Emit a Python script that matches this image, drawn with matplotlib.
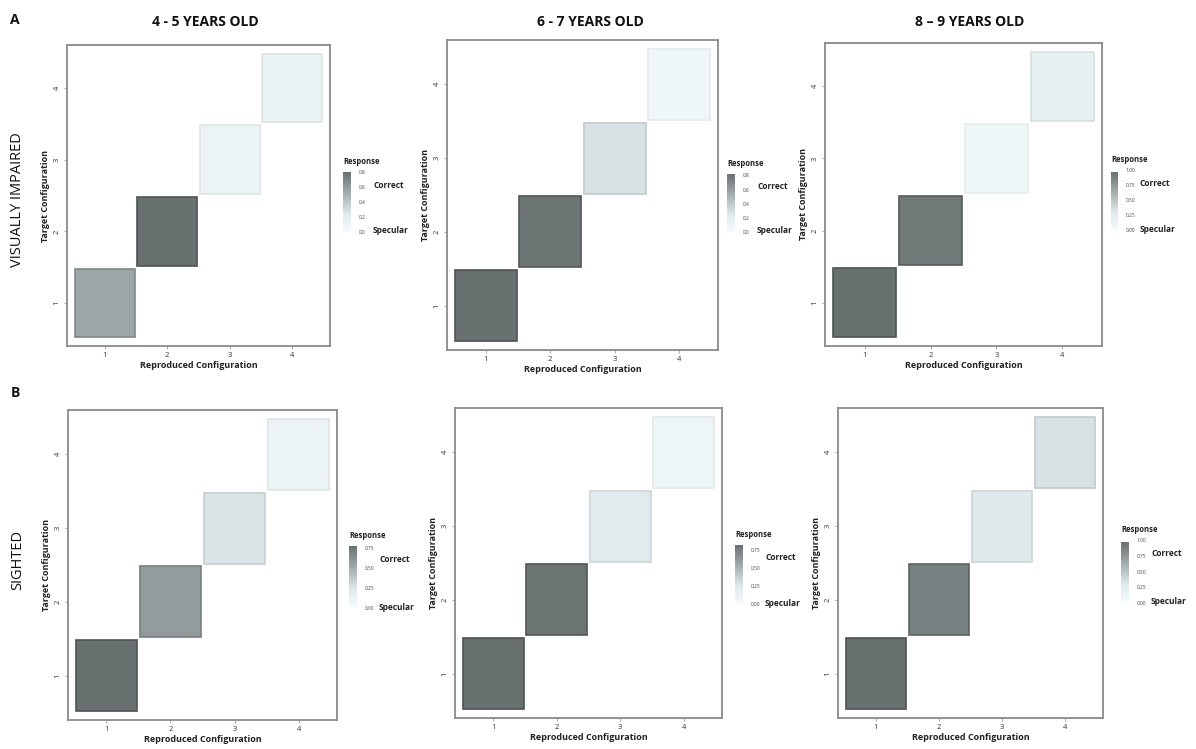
import matplotlib
matplotlib.use("Agg")
import matplotlib.pyplot as plt
from matplotlib.colors import LinearSegmentedColormap, Normalize
from matplotlib.cm import ScalarMappable

plt.rcParams['font.family'] = ['Open Sans', 'DejaVu Sans']

# Configurations (1..4) on both axes; only the diagonal holds a response
configs = [1, 2, 3, 4]
config_labels = ["1", "2", "3", "4"]

age_groups = ["4 - 5 YEARS OLD", "6 - 7 YEARS OLD", "8 \u2013 9 YEARS OLD"]
row_names = ["VISUALLY IMPAIRED", "SIGHTED"]
row_letters = ["A", "B"]

# Mean response per diagonal configuration (1 = correct, 0 = specular)
vi_4_5 = [0.55, 0.80, 0.10, 0.12]
vi_6_7 = [0.82, 0.80, 0.28, 0.06]
vi_8_9 = [0.97, 0.92, 0.06, 0.18]
si_4_5 = [0.78, 0.58, 0.25, 0.10]
si_6_7 = [0.82, 0.80, 0.22, 0.08]
si_8_9 = [0.97, 0.88, 0.28, 0.33]

# Colour-bar tick values of each panel
ticks_vi_4_5 = [0.0, 0.2, 0.4, 0.6, 0.8]
ticks_vi_6_7 = [0.0, 0.2, 0.4, 0.6, 0.8]
ticks_vi_8_9 = [0.0, 0.25, 0.50, 0.75, 1.00]
ticks_si_4_5 = [0.0, 0.25, 0.50, 0.75]
ticks_si_6_7 = [0.0, 0.25, 0.50, 0.75]
ticks_si_8_9 = [0.0, 0.25, 0.50, 0.75, 1.00]

W, H = 1196, 749
fig = plt.figure(figsize=(W / 100, H / 100), dpi=100)
fig.patch.set_facecolor("white")

cmap = LinearSegmentedColormap.from_list(
    "resp", [(0.0, "#f4fbfc"), (0.3, "#dfe9eb"), (0.7, "#9ba4a4"), (1.0, "#687070")])


def px_rect(x0, y0, x1, y1):
    return [x0 / W, 1 - y1 / H, (x1 - x0) / W, (y1 - y0) / H]


def darker(c, f):
    return (c[0] * f, c[1] * f, c[2] * f, 1.0)


panels = [
    (vi_4_5, ticks_vi_4_5, "{:.1f}", (67, 45, 330, 346), (343, 172, 351, 232)),
    (vi_6_7, ticks_vi_6_7, "{:.1f}", (447, 40, 718, 350), (727, 174, 735, 232)),
    (vi_8_9, ticks_vi_8_9, "{:.2f}", (825, 43, 1102, 346), (1111, 170, 1118, 230)),
    (si_4_5, ticks_si_4_5, "{:.2f}", (68, 410, 337, 720), (349, 546, 357, 608)),
    (si_6_7, ticks_si_6_7, "{:.2f}", (455, 408, 722, 718), (735, 545, 743, 604)),
    (si_8_9, ticks_si_8_9, "{:.2f}", (838, 408, 1103, 718), (1121, 540, 1129, 603)),
]

for vals, ticks, fmt, axbox, cbbox in panels:
    ax = fig.add_axes(px_rect(*axbox))
    norm = Normalize(vmin=0.0, vmax=max(vals))
    colors = [cmap(norm(v)) for v in vals]
    # darker tiles get a stronger outline, pale tiles an almost invisible one
    edges = [darker(c, 0.97 - 0.22 * norm(v)) for c, v in zip(colors, vals)]
    ax.bar(configs, [0.96] * 4, bottom=[c - 0.48 for c in configs], width=0.96,
           color=colors, edgecolor=edges, linewidth=1.2, zorder=2)
    ax.set_xlim(0.4, 4.6)
    ax.set_ylim(0.4, 4.6)
    ax.set_xticks(configs)
    ax.set_xticklabels(config_labels, fontsize=5.5, color="#333333")
    ax.set_yticks(configs)
    ax.set_yticklabels(config_labels, fontsize=5.5, color="#333333", rotation=90, va="center")
    ax.tick_params(length=2.5, width=0.6, color="#999999", pad=2)
    for s in ax.spines.values():
        s.set_color("#8a8a8a")
        s.set_linewidth(1.3)
    ax.set_xlabel("Reproduced Configuration", fontsize=6.5, fontweight="bold",
                  color="#222222", labelpad=1)
    ax.set_ylabel("Target Configuration", fontsize=6.5, fontweight="bold",
                  color="#222222", labelpad=3)

    cax = fig.add_axes(px_rect(*cbbox))
    cb = fig.colorbar(ScalarMappable(norm=norm, cmap=cmap), cax=cax)
    cb.outline.set_visible(False)
    cb.set_ticks(ticks)
    cb.set_ticklabels([fmt.format(t) for t in ticks])
    cax.tick_params(labelsize=3.5, length=1.5, width=0.4, color="white",
                    labelcolor="#444444", pad=4)
    cax.set_title("Response", fontsize=5.5, fontweight="bold", color="#222222",
                  loc="left", pad=6)
    cbx1 = cbbox[2]
    cby0, cby1 = cbbox[1], cbbox[3]
    fig.text((cbx1 + 22) / W, 1 - (cby0 + 0.22 * (cby1 - cby0)) / H, "Correct",
             fontsize=6, fontweight="bold", color="#222222", va="center", ha="left")
    fig.text((cbx1 + 22) / W, 1 - (cby1 - 1) / H, "Specular",
             fontsize=6, fontweight="bold", color="#222222", va="center", ha="left")

# Column headers
for title, xc in zip(age_groups, [205, 590, 970]):
    fig.text(xc / W, 1 - 22 / H, title, fontsize=10, fontweight="bold",
             ha="center", va="center", color="#111111")

# Row letters and row names
fig.text(15 / W, 1 - 20 / H, row_letters[0], fontsize=10, fontweight="bold",
         ha="center", va="center", color="#111111")
fig.text(15 / W, 1 - 393 / H, row_letters[1], fontsize=10, fontweight="bold",
         ha="center", va="center", color="#111111")
fig.text(18 / W, 1 - 200 / H, row_names[0], fontsize=10.5, rotation=90,
         ha="center", va="center", color="#111111")
fig.text(18 / W, 1 - 560 / H, row_names[1], fontsize=10.5, rotation=90,
         ha="center", va="center", color="#111111")

fig.savefig("out.png", dpi=100, facecolor="white")
